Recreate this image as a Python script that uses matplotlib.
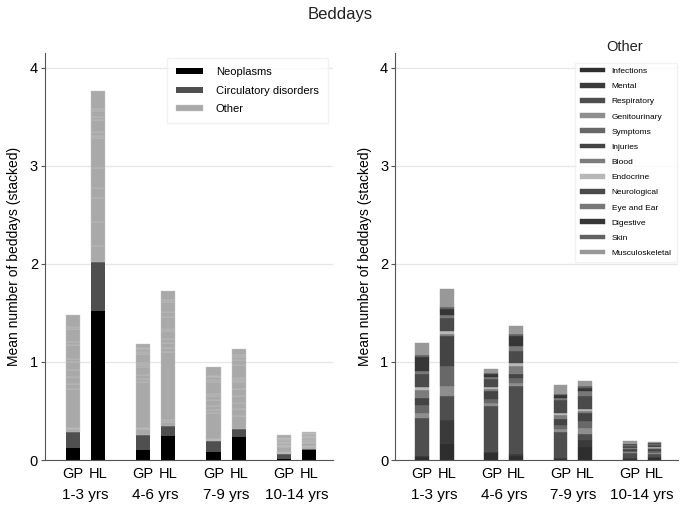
import numpy as np
import matplotlib
matplotlib.use("Agg")
import matplotlib.pyplot as plt

plt.rcParams["font.family"] = ["Liberation Sans", "DejaVu Sans"]

# age groups and the two settings
age_groups = ["1-3 yrs", "4-6 yrs", "7-9 yrs", "10-14 yrs"]
settings = ["GP", "HL"]

# left panel: bars in order GP 1-3, HL 1-3, GP 4-6, HL 4-6, ...
neoplasms = [0.12, 1.52, 0.10, 0.24, 0.08, 0.23, 0.01, 0.10]
circulatory = [0.17, 0.50, 0.15, 0.11, 0.11, 0.09, 0.05, 0.01]

# right panel: breakdown of "Other"
other_cats = ["Infections", "Mental", "Respiratory", "Genitourinary", "Symptoms",
              "Injuries", "Blood", "Endocrine", "Neurological", "Eye and Ear",
              "Digestive", "Skin", "Musculoskeletal"]
other_vals = {
    "Infections":      [0.03, 0.16, 0.07, 0.04, 0.01, 0.13, 0.01, 0.02],
    "Mental":          [0.01, 0.25, 0.01, 0.02, 0.01, 0.07, 0.01, 0.01],
    "Respiratory":     [0.39, 0.24, 0.47, 0.69, 0.27, 0.06, 0.05, 0.03],
    "Genitourinary":   [0.05, 0.10, 0.03, 0.04, 0.03, 0.07, 0.01, 0.01],
    "Symptoms":        [0.08, 0.21, 0.04, 0.05, 0.04, 0.07, 0.01, 0.02],
    "Injuries":        [0.07, 0.30, 0.08, 0.04, 0.06, 0.08, 0.02, 0.02],
    "Blood":           [0.08, 0.02, 0.02, 0.08, 0.04, 0.02, 0.01, 0.01],
    "Endocrine":       [0.03, 0.04, 0.02, 0.03, 0.02, 0.02, 0.005, 0.01],
    "Neurological":    [0.14, 0.13, 0.09, 0.12, 0.13, 0.13, 0.02, 0.02],
    "Eye and Ear":     [0.03, 0.03, 0.02, 0.05, 0.02, 0.05, 0.005, 0.01],
    "Digestive":       [0.14, 0.06, 0.03, 0.10, 0.03, 0.03, 0.01, 0.01],
    "Skin":            [0.02, 0.02, 0.01, 0.02, 0.01, 0.02, 0.0, 0.0],
    "Musculoskeletal": [0.12, 0.18, 0.04, 0.09, 0.09, 0.06, 0.03, 0.01],
}
other_colors = ["#2e2e2e", "#3a3a3a", "#4e4e4e", "#8e8e8e", "#686868", "#444444",
                "#7c7c7c", "#b8b8b8", "#4a4a4a", "#787878", "#363636", "#626262",
                "#989898"]

# bar x positions
offset = 0.18
xpos = []
for g in range(len(age_groups)):
    xpos += [g - offset, g + offset]
xpos = np.array(xpos)
bw = 0.2

fig = plt.figure(figsize=(6.8, 5.07), dpi=100)
fig.text(0.5, 0.972, "Beddays", ha="center", va="center", fontsize=12, color="#222222")

ax1 = fig.add_axes([0.066, 0.0927, 0.424, 0.803])
ax2 = fig.add_axes([0.581, 0.0927, 0.416, 0.803])


def style_axis(ax):
    ax.set_xlim(-0.574, 3.52)
    ax.set_ylim(0, 4.15)
    ax.set_yticks([0, 1, 2, 3, 4])
    ax.yaxis.grid(True, color="#e6e6e6", linewidth=0.9)
    ax.set_axisbelow(True)
    for s in ["top", "right"]:
        ax.spines[s].set_visible(False)
    ax.spines["left"].set_color("#555555")
    ax.spines["bottom"].set_color("#555555")
    ax.tick_params(axis="y", length=3, color="#555555", labelsize=10.5, pad=2)
    ax.set_xticks(xpos)
    ax.set_xticklabels(settings * len(age_groups), fontsize=10.5)
    ax.tick_params(axis="x", length=0, pad=5)
    for g, lab in enumerate(age_groups):
        ax.text(g, -0.36, lab, ha="center", va="center", fontsize=11,
                transform=ax.transData, clip_on=False)
    ax.set_ylabel("Mean number of beddays (stacked)", fontsize=10, labelpad=6)


# left panel
neo = np.array(neoplasms)
circ = np.array(circulatory)
ax1.bar(xpos, neo, bw, color="#000000", label="Neoplasms")
ax1.bar(xpos, circ, bw, bottom=neo, color="#4f4f4f", label="Circulatory disorders")
bottom = neo + circ
for i, c in enumerate(other_cats):
    v = np.array(other_vals[c])
    ax1.bar(xpos, v, bw, bottom=bottom, color="#a9a9a9", edgecolor="#c6c6c6",
            linewidth=0.3, label="Other" if i == 0 else None)
    bottom = bottom + v
style_axis(ax1)
leg1 = ax1.legend(loc="upper right", bbox_to_anchor=(1.0, 1.0), fontsize=8,
                  handlelength=2.4, handleheight=0.45, frameon=True, fancybox=False,
                  edgecolor="#eeeeee", borderpad=0.8, labelspacing=0.75,
                  handletextpad=1.2)

# right panel
bottom = np.zeros(len(xpos))
for c, col in zip(other_cats, other_colors):
    v = np.array(other_vals[c])
    ax2.bar(xpos, v, bw, bottom=bottom, color=col, edgecolor=col, linewidth=0.3, label=c)
    bottom = bottom + v
style_axis(ax2)
leg2 = ax2.legend(loc="upper right", bbox_to_anchor=(1.01, 0.986), fontsize=6,
                  handlelength=3.0, handleheight=0.5, frameon=True, fancybox=False,
                  edgecolor="#eeeeee", borderpad=0.6, labelspacing=0.94)
fig.text(0.919, 0.908, "Other", ha="center", va="center", fontsize=10.5, color="#222222")

fig.savefig("out.png", dpi=100)
